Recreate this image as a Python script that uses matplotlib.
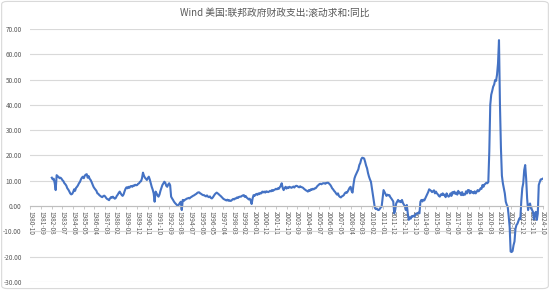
import matplotlib
matplotlib.use("Agg")
import matplotlib.pyplot as plt
import numpy as np
import pandas as pd
from matplotlib.patches import FancyBboxPatch

plt.rcParams['font.family'] = ['Noto Sans CJK SC', 'DejaVu Sans']

title = "Wind 美国:联邦政府财政支出:滚动求和:同比"
axis_start = "1980-10"
axis_end = "2024-10"
data_start = "1982-08"
tick_step = 11
y_ticks = [-30, -20, -10, 0, 10, 20, 30, 40, 50, 60, 70]

yoy_values = [
    11.2, 10.5, 10.8, 9.0, 6.3, 12.2, 11.8, 11.5, 11.0, 11.2, 10.8, 10.2,
    9.8, 9.0, 8.6, 8.0, 7.0, 6.5, 5.8, 5.0, 4.6, 4.8, 5.5, 6.6,
    6.0, 7.2, 7.6, 8.2, 9.0, 9.5, 10.5, 11.2, 11.6, 11.0, 12.0, 12.4,
    12.6, 11.2, 11.8, 10.8, 10.3, 9.5, 8.5, 7.6, 7.0, 6.5, 6.0, 5.0,
    4.8, 4.3, 4.0, 3.7, 3.5, 3.9, 4.1, 3.8, 3.2, 2.8, 2.6, 2.3,
    3.0, 3.5, 3.3, 3.7, 3.2, 2.9, 3.2, 4.0, 4.5, 5.2, 5.7, 5.0,
    4.4, 4.0, 4.6, 5.8, 6.8, 7.4, 7.0, 7.6, 7.2, 7.8, 7.9, 7.6,
    8.1, 8.0, 8.4, 8.2, 8.3, 8.8, 9.0, 9.6, 9.8, 11.0, 13.2, 12.0,
    11.2, 10.8, 10.3, 11.0, 11.6, 10.5, 9.0, 7.6, 6.5, 5.0, 1.7, 5.7,
    5.0, 4.2, 3.7, 4.5, 6.0, 7.2, 8.3, 8.9, 9.6, 9.2, 8.0, 7.6,
    8.5, 9.0, 8.2, 3.7, 3.0, 2.4, 1.7, 1.2, 0.8, 0.4, 0.0, 0.6,
    1.2, 1.7, -1.6, 2.4, 2.0, 2.4, 2.6, 2.9, 3.0, 3.2, 3.0, 3.4,
    3.6, 3.9, 4.1, 4.3, 4.6, 4.8, 5.2, 5.4, 5.4, 5.0, 4.8, 4.5,
    4.3, 4.3, 4.0, 3.8, 4.2, 3.7, 3.5, 3.8, 3.2, 3.0, 3.4, 4.0,
    4.6, 5.0, 5.3, 5.0, 4.7, 4.3, 4.0, 3.6, 3.2, 2.8, 2.6, 2.4,
    2.2, 2.5, 2.1, 2.3, 2.0, 2.1, 2.5, 2.8, 2.6, 3.0, 3.0, 3.4,
    3.2, 3.6, 3.7, 3.7, 4.0, 4.2, 4.3, 3.6, 3.9, 3.3, 3.0, 2.6,
    2.9, 2.2, 0.8, 3.0, 4.3, 4.0, 4.5, 4.8, 4.4, 5.0, 4.7, 5.2,
    5.0, 5.7, 5.4, 5.7, 5.3, 5.8, 5.7, 5.5, 5.7, 6.0, 5.8, 6.3,
    6.0, 6.3, 6.5, 6.8, 6.6, 7.0, 6.8, 7.4, 8.0, 9.0, 7.2, 6.3,
    7.0, 7.6, 6.9, 7.4, 7.1, 7.6, 7.4, 7.2, 7.4, 7.7, 7.3, 7.8,
    8.0, 7.9, 7.6, 7.4, 7.8, 7.5, 7.4, 7.2, 6.8, 6.5, 6.2, 6.0,
    5.7, 6.3, 6.0, 6.6, 6.4, 6.8, 6.6, 7.0, 7.0, 7.5, 8.0, 8.3,
    8.7, 8.8, 8.6, 8.9, 9.0, 9.0, 8.8, 9.1, 9.2, 9.2, 8.8, 8.4,
    7.8, 7.0, 6.6, 6.0, 5.6, 5.0, 4.5, 5.0, 4.0, 3.6, 3.4, 3.8,
    4.0, 4.3, 5.0, 5.4, 5.2, 5.7, 6.5, 7.2, 7.6, 6.0, 5.3, 8.5,
    10.9, 12.0, 12.8, 13.6, 14.5, 16.2, 17.0, 18.5, 19.1, 19.0, 18.8, 17.5,
    16.0, 14.9, 13.0, 11.6, 10.5, 9.6, 7.0, 4.3, 2.0, -0.7, -1.2, -1.0,
    -1.5, -1.6, -1.2, -0.6, -0.3, 3.0, 6.3, 5.5, 4.8, 4.0, 4.5, 4.2,
    4.3, 3.5, 3.0, 2.4, 1.8, -2.9, -1.6, 1.0, 1.7, 2.4, 1.7, 2.0,
    1.5, 2.4, 1.2, 0.5, 0.0, -1.6, 0.4, -3.0, -5.5, -4.5, -5.0, -4.0,
    -4.2, -3.8, -4.2, -3.2, -2.9, -3.0, -2.6, -2.9, 1.7, 2.4, 1.8, 2.5,
    2.2, 3.0, 3.7, 4.5, 5.5, 6.6, 6.3, 6.0, 5.5, 5.8, 6.2, 5.0,
    5.7, 5.0, 4.6, 4.0, 3.7, 4.6, 4.3, 5.0, 4.3, 4.5, 3.5, 5.0,
    4.2, 3.7, 4.0, 5.0, 4.0, 5.5, 5.0, 5.7, 4.8, 5.3, 4.5, 6.0,
    5.0, 5.3, 4.3, 5.5, 4.3, 4.6, 4.5, 5.8, 5.0, 6.3, 6.3, 5.0,
    6.0, 5.3, 5.5, 5.0, 5.8, 5.0, 5.6, 6.3, 5.8, 6.3, 7.0, 6.8,
    8.3, 7.6, 8.5, 8.8, 9.2, 9.0, 9.5, 21.5, 40.0, 44.0, 45.5, 47.2,
    48.0, 49.8, 49.5, 52.0, 56.4, 65.6, 40.0, 23.0, 12.0, 9.0, 7.0, 5.0,
    1.7, 0.5, -0.3, -4.0, -8.2, -18.0, -18.2, -17.8, -15.5, -14.0, -9.0, -7.5,
    -7.0, -6.0, -4.9, -5.2, 2.0, 7.0, 9.0, 14.2, 16.2, 10.9, 3.0, -1.6,
    0.4, 1.0, -0.9, -1.5, -2.3, -5.3, -3.0, -2.3, -5.5, -3.0, 8.3, 9.5,
    10.5, 10.6, 10.8,
]

months = pd.period_range(axis_start, axis_end, freq="M")
labels = [p.strftime("%Y-%m") for p in months]
offset = labels.index(data_start)
series = np.full(len(months), np.nan)
n = min(len(yoy_values), len(months) - offset)
series[offset:offset + n] = yoy_values[:n]
xs = np.arange(len(months))

fig = plt.figure(figsize=(5.5, 2.9), dpi=100)
fig.patch.set_facecolor("white")
fig.patches.append(FancyBboxPatch((0.003, 0.005), 0.994, 0.99,
                                  boxstyle="round,pad=0,rounding_size=0.01",
                                  transform=fig.transFigure, fill=False,
                                  edgecolor="#D9D9D9", linewidth=0.8))

ax = fig.add_axes([0.0545, 0.028, 0.933, 0.872])
for s in ["top", "right", "left"]:
    ax.spines[s].set_visible(False)
ax.spines["bottom"].set_position(("data", 0))
ax.spines["bottom"].set_color("#BFBFBF")
ax.spines["bottom"].set_linewidth(0.8)

ax.plot(xs, series, color="#4472C4", linewidth=1.5, solid_joinstyle="round")

ax.set_xlim(-0.5, len(months) - 0.5)
ax.set_ylim(-30, 70)
ax.set_yticks(y_ticks)
ax.set_yticklabels([f"{v:.2f}" for v in y_ticks], fontsize=4.6, color="#595959")
ax.yaxis.grid(True, color="#D9D9D9", linewidth=0.8)
ax.set_axisbelow(True)
ax.tick_params(axis="y", length=0, pad=6)

tick_idx = xs[::tick_step]
ax.set_xticks(tick_idx)
ax.set_xticklabels([labels[i] for i in tick_idx], rotation=270, fontsize=4.6,
                   color="#595959", va="top", ha="center",
                   rotation_mode="default")
ax.tick_params(axis="x", length=2, color="#BFBFBF", pad=1.5, width=0.6)

fig.text(0.5, 0.955, title, ha="center", va="center", fontsize=7, color="#595959")

fig.savefig("out.png", dpi=100, facecolor="white")
